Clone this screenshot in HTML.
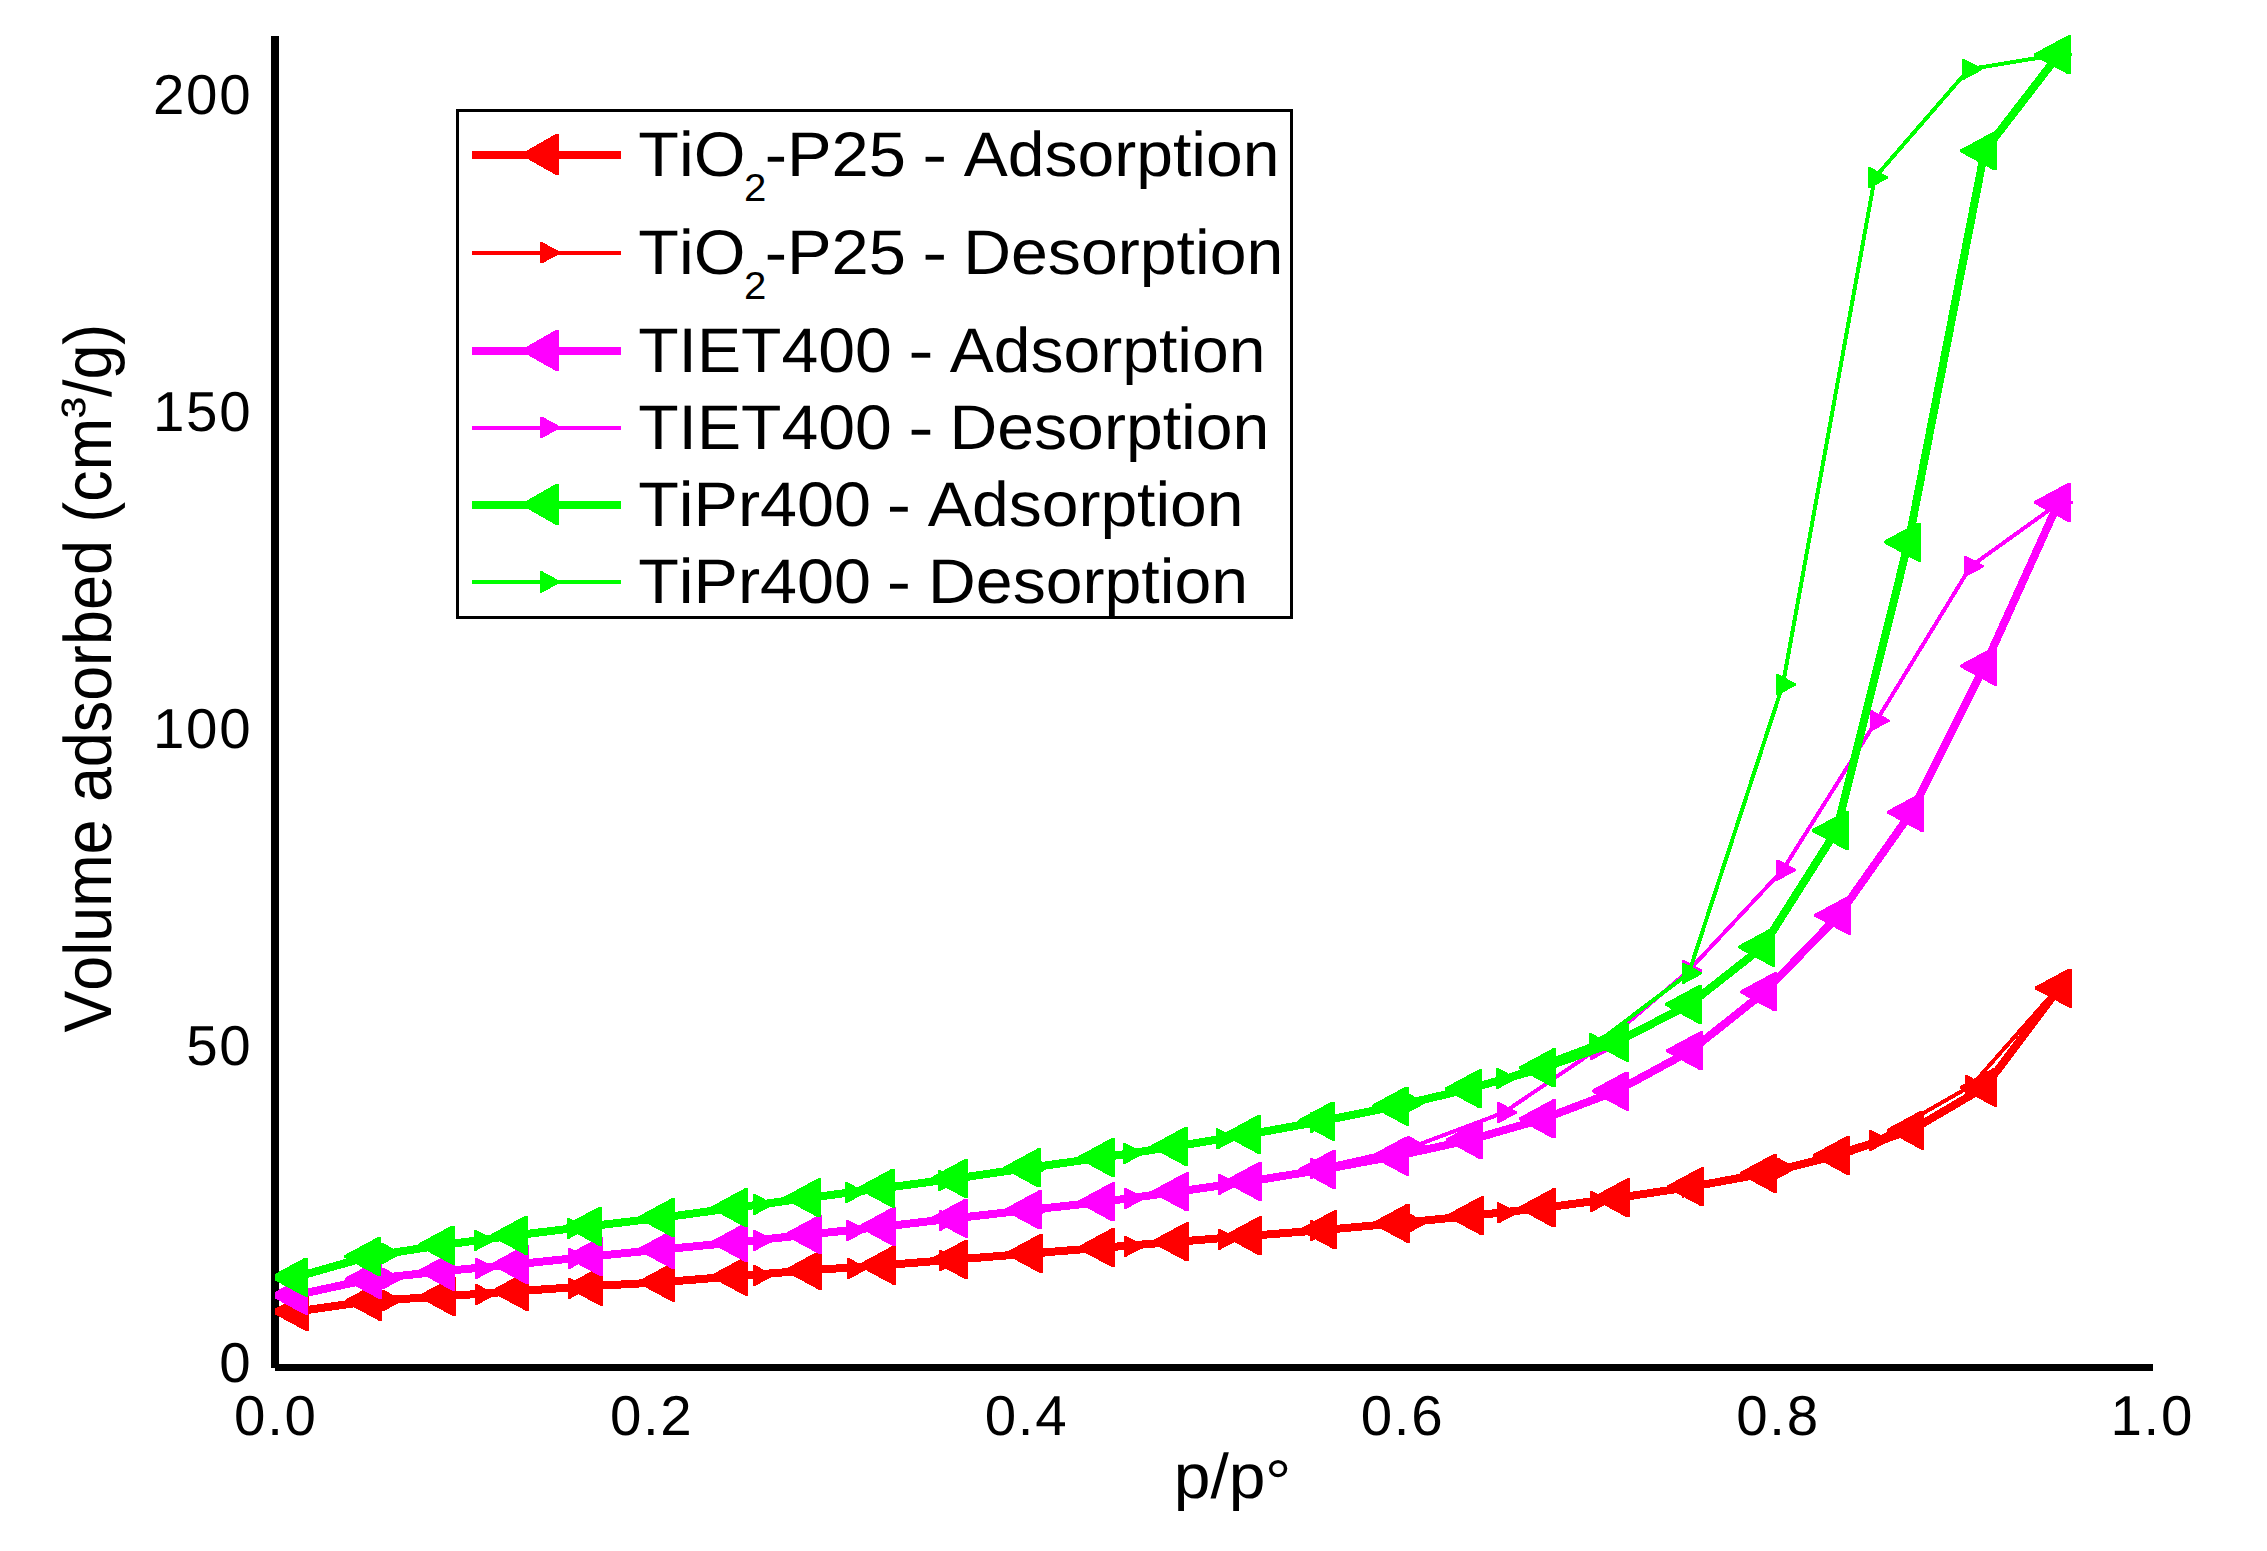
<!DOCTYPE html>
<html lang="en"><head><meta charset="utf-8"><title>N2 adsorption-desorption isotherms</title>
<style>html,body{margin:0;padding:0;background:#fff;width:2267px;height:1551px;overflow:hidden}svg{display:block}text{font-family:"Liberation Sans",sans-serif;fill:#000;font-kerning:none;text-rendering:geometricPrecision}</style></head><body>
<svg width="2267" height="1551" viewBox="0 0 2267 1551">
<rect width="2267" height="1551" fill="#fff"/>
<g shape-rendering="crispEdges" fill="#000">
<rect x="271" y="36" width="8" height="1332"/>
<rect x="275" y="1364" width="1878" height="7"/>
</g>
<defs><clipPath id="plot"><rect x="275" y="30" width="1885" height="1337"/></clipPath></defs>
<g clip-path="url(#plot)" shape-rendering="crispEdges" stroke-linejoin="round">
<polyline fill="none" stroke="#ff0000" stroke-width="8" points="296.4,1311.5 369.4,1301.1 443.3,1296.4 516.3,1291.2 590.6,1286.2 662.7,1282.2 735.7,1276.2 809.6,1270.3 883.5,1265.2 955.6,1259.5 1030.4,1253.5 1102.5,1247.7 1176.6,1241.8 1249.5,1235.9 1324.6,1229.9 1397.5,1223.3 1471.6,1215.8 1543.4,1207.9 1617.5,1197.9 1691.6,1186.8 1764.5,1173.4 1837.6,1155.4 1911.7,1130.0 1984.7,1087.2 2059.4,988.0"/>
<path fill="#ff0000" d="M271.7 1310.4L305.7 1292.0L308.7 1292.0L308.7 1331.0L305.7 1331.0L271.7 1312.6ZM344.7 1300.0L378.7 1281.6L381.7 1281.6L381.7 1320.6L378.7 1320.6L344.7 1302.2ZM418.6 1295.3L452.6 1276.9L455.6 1276.9L455.6 1315.9L452.6 1315.9L418.6 1297.5ZM491.6 1290.1L525.6 1271.7L528.6 1271.7L528.6 1310.7L525.6 1310.7L491.6 1292.3ZM565.9 1285.1L599.9 1266.7L602.9 1266.7L602.9 1305.7L599.9 1305.7L565.9 1287.3ZM638.0 1281.1L672.0 1262.7L675.0 1262.7L675.0 1301.7L672.0 1301.7L638.0 1283.3ZM711.0 1275.1L745.0 1256.7L748.0 1256.7L748.0 1295.7L745.0 1295.7L711.0 1277.3ZM784.9 1269.2L818.9 1250.8L821.9 1250.8L821.9 1289.8L818.9 1289.8L784.9 1271.4ZM858.8 1264.1L892.8 1245.7L895.8 1245.7L895.8 1284.7L892.8 1284.7L858.8 1266.3ZM930.9 1258.4L964.9 1240.0L967.9 1240.0L967.9 1279.0L964.9 1279.0L930.9 1260.6ZM1005.7 1252.4L1039.7 1234.0L1042.7 1234.0L1042.7 1273.0L1039.7 1273.0L1005.7 1254.6ZM1077.8 1246.6L1111.8 1228.2L1114.8 1228.2L1114.8 1267.2L1111.8 1267.2L1077.8 1248.8ZM1151.9 1240.7L1185.9 1222.3L1188.9 1222.3L1188.9 1261.3L1185.9 1261.3L1151.9 1242.9ZM1224.8 1234.8L1258.8 1216.4L1261.8 1216.4L1261.8 1255.4L1258.8 1255.4L1224.8 1237.0ZM1299.9 1228.8L1333.9 1210.4L1336.9 1210.4L1336.9 1249.4L1333.9 1249.4L1299.9 1231.0ZM1372.8 1222.2L1406.8 1203.8L1409.8 1203.8L1409.8 1242.8L1406.8 1242.8L1372.8 1224.4ZM1446.9 1214.7L1480.9 1196.3L1483.9 1196.3L1483.9 1235.3L1480.9 1235.3L1446.9 1216.9ZM1518.7 1206.8L1552.7 1188.4L1555.7 1188.4L1555.7 1227.4L1552.7 1227.4L1518.7 1209.0ZM1592.8 1196.8L1626.8 1178.4L1629.8 1178.4L1629.8 1217.4L1626.8 1217.4L1592.8 1199.0ZM1666.9 1185.7L1700.9 1167.3L1703.9 1167.3L1703.9 1206.3L1700.9 1206.3L1666.9 1187.9ZM1739.8 1172.3L1773.8 1153.9L1776.8 1153.9L1776.8 1192.9L1773.8 1192.9L1739.8 1174.5ZM1812.9 1154.3L1846.9 1135.9L1849.9 1135.9L1849.9 1174.9L1846.9 1174.9L1812.9 1156.5ZM1887.0 1128.9L1921.0 1110.5L1924.0 1110.5L1924.0 1149.5L1921.0 1149.5L1887.0 1131.1ZM1960.0 1086.1L1994.0 1067.7L1997.0 1067.7L1997.0 1106.7L1994.0 1106.7L1960.0 1088.3ZM2034.7 986.9L2068.7 968.5L2071.7 968.5L2071.7 1007.5L2068.7 1007.5L2034.7 989.1Z"/>
<polyline fill="none" stroke="#ff0000" stroke-width="4" points="294.7,1311.5 388.7,1300.5 481.7,1294.5 574.7,1288.3 666.7,1281.9 759.7,1275.5 853.8,1268.6 945.8,1260.4 1036.7,1253.0 1130.8,1246.3 1224.7,1239.3 1316.7,1230.4 1412.7,1223.0 1503.8,1212.8 1596.7,1201.5 1688.7,1187.2 1782.7,1168.2 1875.8,1140.4 1971.6,1085.5 2057.7,988.0"/>
<path fill="#ff0000" d="M308.0 1310.7L290.0 1301.0L288.0 1301.0L288.0 1322.0L290.0 1322.0L308.0 1312.3ZM402.0 1299.7L384.0 1290.0L382.0 1290.0L382.0 1311.0L384.0 1311.0L402.0 1301.3ZM495.0 1293.7L477.0 1284.0L475.0 1284.0L475.0 1305.0L477.0 1305.0L495.0 1295.3ZM588.0 1287.5L570.0 1277.8L568.0 1277.8L568.0 1298.8L570.0 1298.8L588.0 1289.1ZM680.0 1281.1L662.0 1271.4L660.0 1271.4L660.0 1292.4L662.0 1292.4L680.0 1282.7ZM773.0 1274.7L755.0 1265.0L753.0 1265.0L753.0 1286.0L755.0 1286.0L773.0 1276.3ZM867.1 1267.8L849.1 1258.1L847.1 1258.1L847.1 1279.1L849.1 1279.1L867.1 1269.4ZM959.1 1259.6L941.1 1249.9L939.1 1249.9L939.1 1270.9L941.1 1270.9L959.1 1261.2ZM1050.0 1252.2L1032.0 1242.5L1030.0 1242.5L1030.0 1263.5L1032.0 1263.5L1050.0 1253.8ZM1144.1 1245.5L1126.1 1235.8L1124.1 1235.8L1124.1 1256.8L1126.1 1256.8L1144.1 1247.1ZM1238.0 1238.5L1220.0 1228.8L1218.0 1228.8L1218.0 1249.8L1220.0 1249.8L1238.0 1240.1ZM1330.0 1229.6L1312.0 1219.9L1310.0 1219.9L1310.0 1240.9L1312.0 1240.9L1330.0 1231.2ZM1426.0 1222.2L1408.0 1212.5L1406.0 1212.5L1406.0 1233.5L1408.0 1233.5L1426.0 1223.8ZM1517.1 1212.0L1499.1 1202.3L1497.1 1202.3L1497.1 1223.3L1499.1 1223.3L1517.1 1213.6ZM1610.0 1200.7L1592.0 1191.0L1590.0 1191.0L1590.0 1212.0L1592.0 1212.0L1610.0 1202.3ZM1702.0 1186.4L1684.0 1176.7L1682.0 1176.7L1682.0 1197.7L1684.0 1197.7L1702.0 1188.0ZM1796.0 1167.4L1778.0 1157.7L1776.0 1157.7L1776.0 1178.7L1778.0 1178.7L1796.0 1169.0ZM1889.1 1139.6L1871.1 1129.9L1869.1 1129.9L1869.1 1150.9L1871.1 1150.9L1889.1 1141.2ZM1984.9 1084.7L1966.9 1075.0L1964.9 1075.0L1964.9 1096.0L1966.9 1096.0L1984.9 1086.3ZM2071.0 987.2L2053.0 977.5L2051.0 977.5L2051.0 998.5L2053.0 998.5L2071.0 988.8Z"/>
<polyline fill="none" stroke="#ff00ff" stroke-width="8" points="295.6,1295.2 369.2,1279.2 442.9,1271.2 516.3,1264.3 590.6,1256.5 662.7,1249.4 735.7,1242.4 809.6,1234.5 883.5,1226.6 955.6,1218.2 1029.3,1209.9 1102.5,1201.9 1176.6,1191.8 1249.5,1181.4 1323.6,1169.4 1396.5,1156.0 1470.5,1139.8 1543.4,1118.9 1616.5,1091.0 1690.6,1050.8 1764.7,991.9 1838.8,915.3 1911.5,812.2 1984.7,666.0 2058.6,502.4"/>
<path fill="#ff00ff" d="M270.9 1294.1L304.9 1275.7L307.9 1275.7L307.9 1314.7L304.9 1314.7L270.9 1296.3ZM344.5 1278.1L378.5 1259.7L381.5 1259.7L381.5 1298.7L378.5 1298.7L344.5 1280.3ZM418.2 1270.1L452.2 1251.7L455.2 1251.7L455.2 1290.7L452.2 1290.7L418.2 1272.3ZM491.6 1263.2L525.6 1244.8L528.6 1244.8L528.6 1283.8L525.6 1283.8L491.6 1265.4ZM565.9 1255.4L599.9 1237.0L602.9 1237.0L602.9 1276.0L599.9 1276.0L565.9 1257.6ZM638.0 1248.3L672.0 1229.9L675.0 1229.9L675.0 1268.9L672.0 1268.9L638.0 1250.5ZM711.0 1241.3L745.0 1222.9L748.0 1222.9L748.0 1261.9L745.0 1261.9L711.0 1243.5ZM784.9 1233.4L818.9 1215.0L821.9 1215.0L821.9 1254.0L818.9 1254.0L784.9 1235.6ZM858.8 1225.5L892.8 1207.1L895.8 1207.1L895.8 1246.1L892.8 1246.1L858.8 1227.7ZM930.9 1217.1L964.9 1198.7L967.9 1198.7L967.9 1237.7L964.9 1237.7L930.9 1219.3ZM1004.6 1208.8L1038.6 1190.4L1041.6 1190.4L1041.6 1229.4L1038.6 1229.4L1004.6 1211.0ZM1077.8 1200.8L1111.8 1182.4L1114.8 1182.4L1114.8 1221.4L1111.8 1221.4L1077.8 1203.0ZM1151.9 1190.7L1185.9 1172.3L1188.9 1172.3L1188.9 1211.3L1185.9 1211.3L1151.9 1192.9ZM1224.8 1180.3L1258.8 1161.9L1261.8 1161.9L1261.8 1200.9L1258.8 1200.9L1224.8 1182.5ZM1298.9 1168.3L1332.9 1149.9L1335.9 1149.9L1335.9 1188.9L1332.9 1188.9L1298.9 1170.5ZM1371.8 1154.9L1405.8 1136.5L1408.8 1136.5L1408.8 1175.5L1405.8 1175.5L1371.8 1157.1ZM1445.8 1138.7L1479.8 1120.3L1482.8 1120.3L1482.8 1159.3L1479.8 1159.3L1445.8 1140.9ZM1518.7 1117.8L1552.7 1099.4L1555.7 1099.4L1555.7 1138.4L1552.7 1138.4L1518.7 1120.0ZM1591.8 1089.9L1625.8 1071.5L1628.8 1071.5L1628.8 1110.5L1625.8 1110.5L1591.8 1092.1ZM1665.9 1049.7L1699.9 1031.3L1702.9 1031.3L1702.9 1070.3L1699.9 1070.3L1665.9 1051.9ZM1740.0 990.8L1774.0 972.4L1777.0 972.4L1777.0 1011.4L1774.0 1011.4L1740.0 993.0ZM1814.1 914.2L1848.1 895.8L1851.1 895.8L1851.1 934.8L1848.1 934.8L1814.1 916.4ZM1886.8 811.1L1920.8 792.7L1923.8 792.7L1923.8 831.7L1920.8 831.7L1886.8 813.3ZM1960.0 664.9L1994.0 646.5L1997.0 646.5L1997.0 685.5L1994.0 685.5L1960.0 667.1ZM2033.9 501.3L2067.9 482.9L2070.9 482.9L2070.9 521.9L2067.9 521.9L2033.9 503.5Z"/>
<polyline fill="none" stroke="#ff00ff" stroke-width="4" points="294.7,1295.0 388.7,1278.5 481.7,1268.4 574.7,1258.4 666.7,1249.0 759.7,1240.4 852.9,1230.5 945.8,1220.3 1036.7,1209.1 1130.8,1198.4 1224.7,1184.3 1316.7,1168.5 1413.6,1146.5 1503.8,1112.5 1596.7,1049.5 1688.8,970.6 1782.7,870.0 1876.6,720.6 1970.8,566.3 2059.7,502.5"/>
<path fill="#ff00ff" d="M308.0 1294.2L290.0 1284.5L288.0 1284.5L288.0 1305.5L290.0 1305.5L308.0 1295.8ZM402.0 1277.7L384.0 1268.0L382.0 1268.0L382.0 1289.0L384.0 1289.0L402.0 1279.3ZM495.0 1267.6L477.0 1257.9L475.0 1257.9L475.0 1278.9L477.0 1278.9L495.0 1269.2ZM588.0 1257.6L570.0 1247.9L568.0 1247.9L568.0 1268.9L570.0 1268.9L588.0 1259.2ZM680.0 1248.2L662.0 1238.5L660.0 1238.5L660.0 1259.5L662.0 1259.5L680.0 1249.8ZM773.0 1239.6L755.0 1229.9L753.0 1229.9L753.0 1250.9L755.0 1250.9L773.0 1241.2ZM866.2 1229.7L848.2 1220.0L846.2 1220.0L846.2 1241.0L848.2 1241.0L866.2 1231.3ZM959.1 1219.5L941.1 1209.8L939.1 1209.8L939.1 1230.8L941.1 1230.8L959.1 1221.1ZM1050.0 1208.3L1032.0 1198.6L1030.0 1198.6L1030.0 1219.6L1032.0 1219.6L1050.0 1209.9ZM1144.1 1197.6L1126.1 1187.9L1124.1 1187.9L1124.1 1208.9L1126.1 1208.9L1144.1 1199.2ZM1238.0 1183.5L1220.0 1173.8L1218.0 1173.8L1218.0 1194.8L1220.0 1194.8L1238.0 1185.1ZM1330.0 1167.7L1312.0 1158.0L1310.0 1158.0L1310.0 1179.0L1312.0 1179.0L1330.0 1169.3ZM1426.9 1145.7L1408.9 1136.0L1406.9 1136.0L1406.9 1157.0L1408.9 1157.0L1426.9 1147.3ZM1517.1 1111.7L1499.1 1102.0L1497.1 1102.0L1497.1 1123.0L1499.1 1123.0L1517.1 1113.3ZM1610.0 1048.7L1592.0 1039.0L1590.0 1039.0L1590.0 1060.0L1592.0 1060.0L1610.0 1050.3ZM1702.1 969.8L1684.1 960.1L1682.1 960.1L1682.1 981.1L1684.1 981.1L1702.1 971.4ZM1796.0 869.2L1778.0 859.5L1776.0 859.5L1776.0 880.5L1778.0 880.5L1796.0 870.8ZM1889.9 719.8L1871.9 710.1L1869.9 710.1L1869.9 731.1L1871.9 731.1L1889.9 721.4ZM1984.1 565.5L1966.1 555.8L1964.1 555.8L1964.1 576.8L1966.1 576.8L1984.1 567.1ZM2073.0 501.7L2055.0 492.0L2053.0 492.0L2053.0 513.0L2055.0 513.0L2073.0 503.3Z"/>
<polyline fill="none" stroke="#00ff00" stroke-width="8" points="295.6,1277.2 368.7,1256.5 442.5,1245.0 515.7,1235.3 589.6,1226.3 662.7,1217.6 735.7,1207.7 808.6,1197.9 882.7,1188.2 955.6,1178.5 1028.4,1167.9 1102.5,1157.5 1175.7,1146.4 1248.7,1134.4 1322.6,1121.0 1396.5,1106.0 1469.6,1088.8 1543.4,1067.9 1616.5,1042.1 1689.6,1004.4 1762.7,947.0 1836.5,830.5 1908.5,542.0 1984.6,150.9 2058.6,54.8"/>
<path fill="#00ff00" d="M270.9 1276.1L304.9 1257.7L307.9 1257.7L307.9 1296.7L304.9 1296.7L270.9 1278.3ZM344.0 1255.4L378.0 1237.0L381.0 1237.0L381.0 1276.0L378.0 1276.0L344.0 1257.6ZM417.8 1243.9L451.8 1225.5L454.8 1225.5L454.8 1264.5L451.8 1264.5L417.8 1246.1ZM491.0 1234.2L525.0 1215.8L528.0 1215.8L528.0 1254.8L525.0 1254.8L491.0 1236.4ZM564.9 1225.2L598.9 1206.8L601.9 1206.8L601.9 1245.8L598.9 1245.8L564.9 1227.4ZM638.0 1216.5L672.0 1198.1L675.0 1198.1L675.0 1237.1L672.0 1237.1L638.0 1218.7ZM711.0 1206.6L745.0 1188.2L748.0 1188.2L748.0 1227.2L745.0 1227.2L711.0 1208.8ZM783.9 1196.8L817.9 1178.4L820.9 1178.4L820.9 1217.4L817.9 1217.4L783.9 1199.0ZM858.0 1187.1L892.0 1168.7L895.0 1168.7L895.0 1207.7L892.0 1207.7L858.0 1189.3ZM930.9 1177.4L964.9 1159.0L967.9 1159.0L967.9 1198.0L964.9 1198.0L930.9 1179.6ZM1003.7 1166.8L1037.7 1148.4L1040.7 1148.4L1040.7 1187.4L1037.7 1187.4L1003.7 1169.0ZM1077.8 1156.4L1111.8 1138.0L1114.8 1138.0L1114.8 1177.0L1111.8 1177.0L1077.8 1158.6ZM1151.0 1145.3L1185.0 1126.9L1188.0 1126.9L1188.0 1165.9L1185.0 1165.9L1151.0 1147.5ZM1224.0 1133.3L1258.0 1114.9L1261.0 1114.9L1261.0 1153.9L1258.0 1153.9L1224.0 1135.5ZM1297.9 1119.9L1331.9 1101.5L1334.9 1101.5L1334.9 1140.5L1331.9 1140.5L1297.9 1122.1ZM1371.8 1104.9L1405.8 1086.5L1408.8 1086.5L1408.8 1125.5L1405.8 1125.5L1371.8 1107.1ZM1444.9 1087.7L1478.9 1069.3L1481.9 1069.3L1481.9 1108.3L1478.9 1108.3L1444.9 1089.9ZM1518.7 1066.8L1552.7 1048.4L1555.7 1048.4L1555.7 1087.4L1552.7 1087.4L1518.7 1069.0ZM1591.8 1041.0L1625.8 1022.6L1628.8 1022.6L1628.8 1061.6L1625.8 1061.6L1591.8 1043.2ZM1664.9 1003.3L1698.9 984.9L1701.9 984.9L1701.9 1023.9L1698.9 1023.9L1664.9 1005.5ZM1738.0 945.9L1772.0 927.5L1775.0 927.5L1775.0 966.5L1772.0 966.5L1738.0 948.1ZM1811.8 829.4L1845.8 811.0L1848.8 811.0L1848.8 850.0L1845.8 850.0L1811.8 831.6ZM1883.8 540.9L1917.8 522.5L1920.8 522.5L1920.8 561.5L1917.8 561.5L1883.8 543.1ZM1959.9 149.8L1993.9 131.4L1996.9 131.4L1996.9 170.4L1993.9 170.4L1959.9 152.0ZM2033.9 53.7L2067.9 35.3L2070.9 35.3L2070.9 74.3L2067.9 74.3L2033.9 55.9Z"/>
<polyline fill="none" stroke="#00ff00" stroke-width="4" points="294.7,1277.0 387.7,1253.5 480.8,1240.3 573.8,1228.3 666.7,1217.1 759.7,1204.4 851.8,1192.5 944.9,1180.4 1036.7,1166.7 1129.9,1153.4 1222.7,1138.9 1316.7,1122.3 1411.5,1102.9 1502.7,1078.4 1595.7,1043.5 1688.8,973.3 1782.9,684.5 1874.8,177.6 1968.8,69.3 2058.7,54.5"/>
<path fill="#00ff00" d="M308.0 1276.2L290.0 1266.5L288.0 1266.5L288.0 1287.5L290.0 1287.5L308.0 1277.8ZM401.0 1252.7L383.0 1243.0L381.0 1243.0L381.0 1264.0L383.0 1264.0L401.0 1254.3ZM494.1 1239.5L476.1 1229.8L474.1 1229.8L474.1 1250.8L476.1 1250.8L494.1 1241.1ZM587.1 1227.5L569.1 1217.8L567.1 1217.8L567.1 1238.8L569.1 1238.8L587.1 1229.1ZM680.0 1216.3L662.0 1206.6L660.0 1206.6L660.0 1227.6L662.0 1227.6L680.0 1217.9ZM773.0 1203.6L755.0 1193.9L753.0 1193.9L753.0 1214.9L755.0 1214.9L773.0 1205.2ZM865.1 1191.7L847.1 1182.0L845.1 1182.0L845.1 1203.0L847.1 1203.0L865.1 1193.3ZM958.2 1179.6L940.2 1169.9L938.2 1169.9L938.2 1190.9L940.2 1190.9L958.2 1181.2ZM1050.0 1165.9L1032.0 1156.2L1030.0 1156.2L1030.0 1177.2L1032.0 1177.2L1050.0 1167.5ZM1143.2 1152.6L1125.2 1142.9L1123.2 1142.9L1123.2 1163.9L1125.2 1163.9L1143.2 1154.2ZM1236.0 1138.1L1218.0 1128.4L1216.0 1128.4L1216.0 1149.4L1218.0 1149.4L1236.0 1139.7ZM1330.0 1121.5L1312.0 1111.8L1310.0 1111.8L1310.0 1132.8L1312.0 1132.8L1330.0 1123.1ZM1424.8 1102.1L1406.8 1092.4L1404.8 1092.4L1404.8 1113.4L1406.8 1113.4L1424.8 1103.7ZM1516.0 1077.6L1498.0 1067.9L1496.0 1067.9L1496.0 1088.9L1498.0 1088.9L1516.0 1079.2ZM1609.0 1042.7L1591.0 1033.0L1589.0 1033.0L1589.0 1054.0L1591.0 1054.0L1609.0 1044.3ZM1702.1 972.5L1684.1 962.8L1682.1 962.8L1682.1 983.8L1684.1 983.8L1702.1 974.1ZM1796.2 683.7L1778.2 674.0L1776.2 674.0L1776.2 695.0L1778.2 695.0L1796.2 685.3ZM1888.1 176.8L1870.1 167.1L1868.1 167.1L1868.1 188.1L1870.1 188.1L1888.1 178.4ZM1982.1 68.5L1964.1 58.8L1962.1 58.8L1962.1 79.8L1964.1 79.8L1982.1 70.1ZM2072.0 53.7L2054.0 44.0L2052.0 44.0L2052.0 65.0L2054.0 65.0L2072.0 55.3Z"/>
</g>
<text transform="translate(219.20 1381.90) scale(1.0030 1)" font-size="56.3" text-anchor="start" letter-spacing="1.665">0</text>
<text transform="translate(186.13 1064.80) scale(1.0030 1)" font-size="56.3" text-anchor="start" letter-spacing="1.665">50</text>
<text transform="translate(153.05 747.70) scale(1.0030 1)" font-size="56.3" text-anchor="start" letter-spacing="1.665">100</text>
<text transform="translate(153.05 430.60) scale(1.0030 1)" font-size="56.3" text-anchor="start" letter-spacing="1.665">150</text>
<text transform="translate(153.05 113.50) scale(1.0030 1)" font-size="56.3" text-anchor="start" letter-spacing="1.665">200</text>
<text transform="translate(234.08 1434.60) scale(1.0030 1)" font-size="56.3" text-anchor="start" letter-spacing="1.665">0.0</text>
<text transform="translate(609.90 1434.60) scale(1.0030 1)" font-size="56.3" text-anchor="start" letter-spacing="1.665">0.2</text>
<text transform="translate(984.80 1434.60) scale(1.0030 1)" font-size="56.3" text-anchor="start" letter-spacing="1.665">0.4</text>
<text transform="translate(1360.72 1434.60) scale(1.0030 1)" font-size="56.3" text-anchor="start" letter-spacing="1.665">0.6</text>
<text transform="translate(1736.20 1434.60) scale(1.0030 1)" font-size="56.3" text-anchor="start" letter-spacing="1.665">0.8</text>
<text transform="translate(2110.53 1434.60) scale(1.0030 1)" font-size="56.3" text-anchor="start" letter-spacing="1.665">1.0</text>
<text transform="translate(1173.75 1498.30) scale(1.0470 1)" font-size="63" text-anchor="start">p/p</text>
<text transform="translate(1264.89 1502.80) scale(1.0675 1)" font-size="61.5" text-anchor="start">°</text>
<g transform="translate(110.5 1032.6) rotate(-90) scale(1 1.07)" font-size="62.83"><text>Volume adsorbed (cm</text><text transform="translate(614.62 -9.1) scale(1 0.85)">³</text><text x="635.54">/g)</text></g>
<rect x="457.5" y="110.5" width="834" height="507" fill="none" stroke="#000" stroke-width="3" shape-rendering="crispEdges"/>
<g shape-rendering="crispEdges">
<rect x="472" y="150.9" width="149" height="8" fill="#ff0000"/>
<path fill="#ff0000" d="M521.9 153.4L555.9 134.0L558.9 134.0L558.9 175.0L555.9 175.0L521.9 155.6Z"/>
<rect x="472" y="251.1" width="149" height="4" fill="#ff0000"/>
<path fill="#ff0000" d="M560.2 251.9L542.2 242.1L540.2 242.1L540.2 263.4L542.2 263.4L560.2 253.6Z"/>
<rect x="472" y="346.9" width="149" height="8" fill="#ff00ff"/>
<path fill="#ff00ff" d="M521.9 349.4L555.9 330.0L558.9 330.0L558.9 371.0L555.9 371.0L521.9 351.6Z"/>
<rect x="472" y="425.6" width="149" height="4" fill="#ff00ff"/>
<path fill="#ff00ff" d="M560.2 426.5L542.2 416.7L540.2 416.7L540.2 438.0L542.2 438.0L560.2 428.1Z"/>
<rect x="472" y="500.8" width="149" height="8" fill="#00ff00"/>
<path fill="#00ff00" d="M521.9 503.3L555.9 483.9L558.9 483.9L558.9 524.9L555.9 524.9L521.9 505.5Z"/>
<rect x="472" y="580.2" width="149" height="4" fill="#00ff00"/>
<path fill="#00ff00" d="M560.2 581.1L542.2 571.3L540.2 571.3L540.2 592.6L542.2 592.6L560.2 582.7Z"/>
</g>
<text transform="translate(638.36 175.90) scale(1.0556 1)" font-size="63" text-anchor="start">TiO</text>
<text transform="translate(764.73 175.90) scale(1.0617 1)" font-size="63" text-anchor="start">-P25</text>
<text transform="translate(922.37 175.90) scale(1.1898 1)" font-size="63" text-anchor="start">-</text>
<text transform="translate(963.67 175.90) scale(1.0482 1)" font-size="63" text-anchor="start">Adsorption</text>
<text transform="translate(743.88 200.80) scale(1.0380 1)" font-size="38.7" text-anchor="start">2</text>
<text transform="translate(638.36 274.05) scale(1.0556 1)" font-size="63" text-anchor="start">TiO</text>
<text transform="translate(764.73 274.05) scale(1.0617 1)" font-size="63" text-anchor="start">-P25</text>
<text transform="translate(922.37 274.05) scale(1.1898 1)" font-size="63" text-anchor="start">-</text>
<text transform="translate(963.17 274.05) scale(1.0508 1)" font-size="63" text-anchor="start">Desorption</text>
<text transform="translate(743.88 298.95) scale(1.0380 1)" font-size="38.7" text-anchor="start">2</text>
<text transform="translate(638.21 371.90) scale(1.0495 1)" font-size="63" text-anchor="start">TIET400</text>
<text transform="translate(908.21 371.90) scale(1.2093 1)" font-size="63" text-anchor="start">-</text>
<text transform="translate(949.77 371.90) scale(1.0482 1)" font-size="63" text-anchor="start">Adsorption</text>
<text transform="translate(638.21 448.65) scale(1.0495 1)" font-size="63" text-anchor="start">TIET400</text>
<text transform="translate(908.21 448.65) scale(1.2093 1)" font-size="63" text-anchor="start">-</text>
<text transform="translate(949.47 448.65) scale(1.0501 1)" font-size="63" text-anchor="start">Desorption</text>
<text transform="translate(638.21 525.80) scale(1.0553 1)" font-size="63" text-anchor="start">TiPr400</text>
<text transform="translate(886.86 525.80) scale(1.1573 1)" font-size="63" text-anchor="start">-</text>
<text transform="translate(927.87 525.80) scale(1.0482 1)" font-size="63" text-anchor="start">Adsorption</text>
<text transform="translate(638.21 603.20) scale(1.0553 1)" font-size="63" text-anchor="start">TiPr400</text>
<text transform="translate(886.86 603.20) scale(1.1573 1)" font-size="63" text-anchor="start">-</text>
<text transform="translate(928.07 603.20) scale(1.0501 1)" font-size="63" text-anchor="start">Desorption</text>
</svg></body></html>
